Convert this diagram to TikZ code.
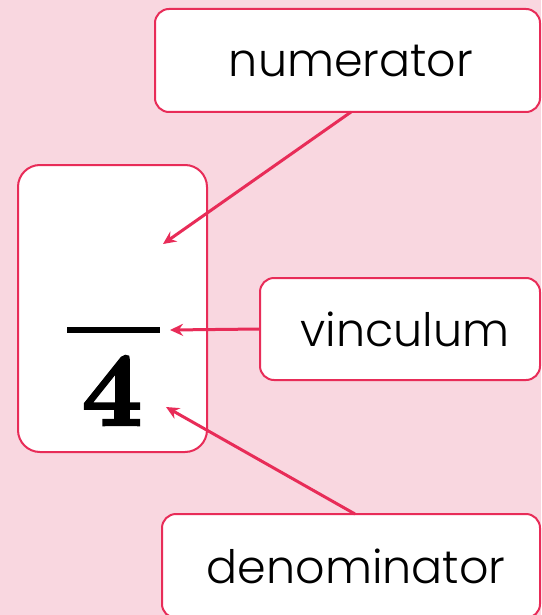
\documentclass[tikz,border=0pt]{standalone}
\usepackage{fontspec}
\newfontfamily\labelfont{Poppins Light}
\newfontfamily\digitfont{lmroman10-bold}[Extension=.otf,FakeBold=2.5]
\usetikzlibrary{arrows.meta}
\definecolor{bgpink}{RGB}{249,215,224}
\definecolor{crim}{RGB}{232,44,88}
\tikzset{
  labelbox/.style={draw=crim,line width=2pt,fill=white,rounded corners=14pt},
  labeltext/.style={font=\labelfont\fontsize{46}{50}\selectfont,text=black,inner sep=0pt},
  pointer/.style={draw=crim,line width=3pt,-{Stealth[length=13pt,width=12pt]}}
}
\begin{document}
\begin{tikzpicture}[x=1pt,y=-1pt]
\fill[bgpink] (0,0) rectangle (541,615);
\useasboundingbox (0,0) rectangle (541,615);
% fraction box
\draw[labelbox,rounded corners=22pt] (18,165) rectangle (207,452);
\node[fill=black,minimum width=93pt,minimum height=6pt,inner sep=0pt] (bar) at (113.5,330) {};
\node[inner sep=0pt,anchor=base] (four) at (112,425) {\digitfont\fontsize{105}{105}\selectfont 4};
% label boxes
\draw[labelbox] (155,9) rectangle (540,112);
\node[labeltext] (num) at (351,61) {numerator};
\draw[labelbox] (260,278) rectangle (540,380);
\node[labeltext] (vin) at (405,329) {vinculum};
\draw[labelbox] (162,514) rectangle (540,618);
\node[labeltext] (den) at (356,566) {denominator};
% anchors
\coordinate (numfoot) at (351,112);
\coordinate (numtip) at (163,244);
\coordinate (vinfoot) at (260,329);
\coordinate (vintip) at (170,330);
\coordinate (denfoot) at (355,514);
\coordinate (dentip) at (166,407);
\draw[pointer] (numfoot) -- (numtip);
\draw[pointer] (vinfoot) -- (vintip);
\draw[pointer] (denfoot) -- (dentip);
\end{tikzpicture}
\end{document}
